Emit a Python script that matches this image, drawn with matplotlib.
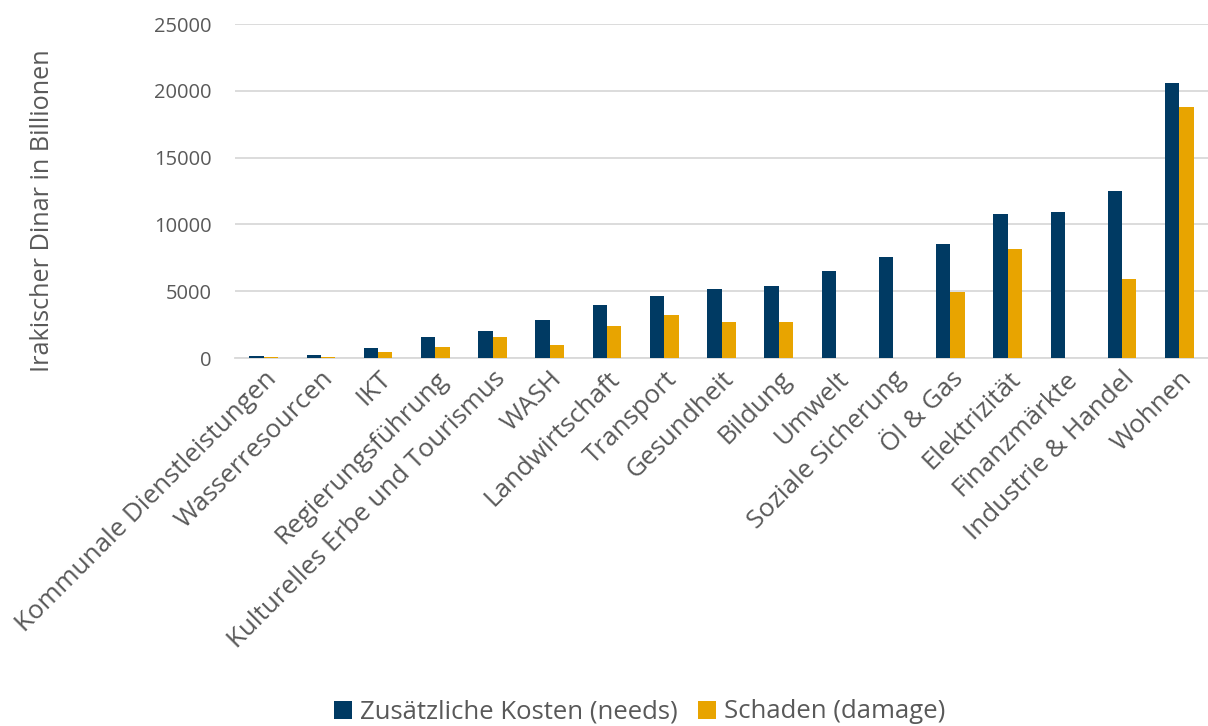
import matplotlib
matplotlib.use("Agg")
import matplotlib.pyplot as plt
import numpy as np

categories = ["Kommunale Dienstleistungen", "Wasserresourcen", "IKT", "Regierungsführung",
              "Kulturelles Erbe und Tourismus", "WASH", "Landwirtschaft", "Transport",
              "Gesundheit", "Bildung", "Umwelt", "Soziale Sicherung", "Öl & Gas",
              "Elektrizität", "Finanzmärkte", "Industrie & Handel", "Wohnen"]
needs = [150, 250, 750, 1600, 2050, 2850, 4000, 4660, 5140, 5360, 6490, 7530, 8530,
         10750, 10930, 12500, 20580]
damage = [50, 80, 450, 850, 1600, 1000, 2400, 3200, 2670, 2720, 30, 0, 4960,
          8160, 20, 5910, 18780]
series_labels = ["Zusätzliche Kosten (needs)", "Schaden (damage)"]
yticks = [0, 5000, 10000, 15000, 20000, 25000]

plt.rcParams['font.family'] = ['Open Sans', 'DejaVu Sans']
text_color = "#595959"
navy = "#003A63"
orange = "#E8A400"

fig = plt.figure(figsize=(12.08, 7.26), dpi=100)
ax = fig.add_axes([235/1208, 1-358/726, (1208-235)/1208, (358-24)/726])

x = np.arange(len(categories))
w = 0.25
ax.bar(x - w/2, needs, width=w, color=navy, label=series_labels[0], zorder=3)
ax.bar(x + w/2, damage, width=w, color=orange, label=series_labels[1], zorder=3)

ax.set_xlim(-0.5, len(categories) - 0.5)
ax.set_ylim(0, 25000)
ax.set_yticks(yticks)
ax.set_yticklabels([str(t) for t in yticks], fontsize=14.5, color=text_color)
ax.yaxis.grid(True, color="#D9D9D9", linewidth=1.3, zorder=0)
ax.set_axisbelow(True)
ax.tick_params(axis='y', length=0, pad=17)
ax.tick_params(axis='x', length=0, pad=6)
ax.set_xticks(x)
ax.set_xticklabels(categories, rotation=45, ha='right', rotation_mode='anchor',
                   fontsize=18.7, color=text_color)
for s in ["top", "right", "left"]:
    ax.spines[s].set_visible(False)
ax.spines["bottom"].set_color("#D9D9D9")
ax.spines["bottom"].set_linewidth(1.3)

ax.set_ylabel("Irakischer Dinar in Billionen", fontsize=18.2, color=text_color)
ax.yaxis.set_label_coords(-0.185, 0.44)

leg = fig.legend(loc="center", bbox_to_anchor=(640/1208, 1-712/726), ncol=2, frameon=False,
                 fontsize=18.5, handlelength=0.7, handleheight=0.7, handletextpad=0.3,
                 columnspacing=0.8)
for t in leg.get_texts():
    t.set_color(text_color)

fig.savefig("out.png", dpi=100)
